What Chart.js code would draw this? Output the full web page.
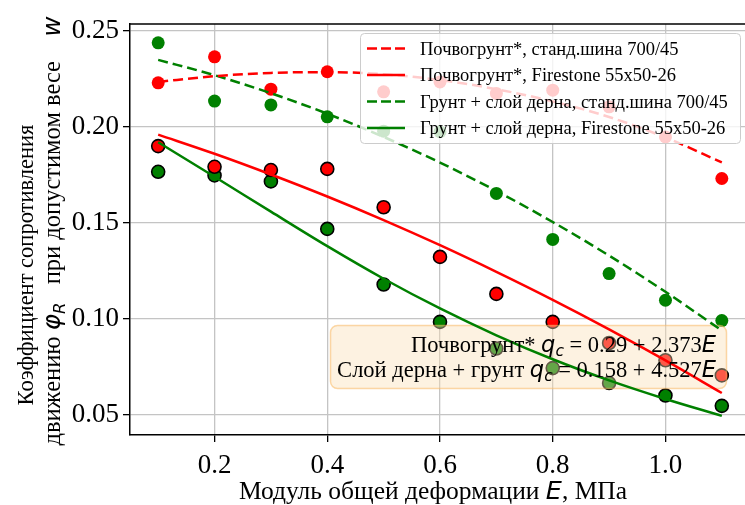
<!DOCTYPE html>
<html>
<head>
<meta charset="utf-8">
<script src="https://cdn.jsdelivr.net/npm/chart.js@4.4.1/dist/chart.umd.min.js"></script>
<style>
  html, body { margin: 0; padding: 0; background: #fff; overflow: hidden; }
  #wrap { width: 760px; height: 505px; }
</style>
</head>
<body>
<div id="wrap"><canvas id="chart" width="760" height="505"></canvas></div>
<script>
// ── Data ──
const E_VALUES = [0.1, 0.2, 0.3, 0.4, 0.5, 0.6, 0.7, 0.8, 0.9, 1.0, 1.1];

// measured points
const SOIL_STD_PTS  = [0.223, 0.2366, 0.2197, 0.2288, 0.2183, 0.2235, 0.2175, 0.2192, 0.2105, 0.1948, 0.1731];
const SOIL_FIRE_PTS = [0.190, 0.1792, 0.1775, 0.1781, 0.1581, 0.1322, 0.1129, 0.0983, 0.0873, 0.0783, 0.0704];
const TURF_STD_PTS  = [0.2439, 0.2135, 0.2115, 0.2053, 0.1978, 0.1975, 0.1653, 0.1413, 0.1235, 0.1096, 0.0990];
const TURF_FIRE_PTS = [0.1766, 0.1747, 0.1716, 0.1468, 0.1178, 0.0983, 0.0844, 0.0742, 0.0664, 0.0599, 0.0545];

// fitted curves
const SOIL_STD_FIT  = [0.2235, 0.2265, 0.2282, 0.2286, 0.2275, 0.2245, 0.2197, 0.2133, 0.2052, 0.1945, 0.1815];
const SOIL_FIRE_FIT = [0.196, 0.186, 0.1752, 0.1637, 0.1514, 0.1383, 0.1244, 0.1098, 0.0944, 0.0782, 0.0612];
const TURF_STD_FIT  = [0.235, 0.227, 0.2176, 0.2069, 0.1948, 0.1814, 0.1666, 0.1504, 0.1329, 0.114, 0.0938];
const TURF_FIRE_FIT = [0.192, 0.174, 0.1558, 0.1378, 0.1208, 0.1053, 0.0913, 0.0788, 0.0678, 0.0581, 0.0493];

const X_TICKS = [0.2, 0.4, 0.6, 0.8, 1.0];
const Y_TICKS = [0.05, 0.10, 0.15, 0.20, 0.25];

const LEGEND_LABELS = [
  'Почвогрунт*, станд.шина 700/45',
  'Почвогрунт*, Firestone 55x50-26',
  'Грунт + слой дерна, станд.шина 700/45',
  'Грунт + слой дерна, Firestone 55x50-26'
];

const SERIF = '"Liberation Serif", "Times New Roman", serif';
const MATH = '"DejaVu Sans", sans-serif';
const RED = '#ff0000';
const GREEN = '#008000';

function pts(ys) {
  return E_VALUES.map((x, i) => ({ x: x, y: ys[i] }));
}

function fitLine(label, ys, color, dashed) {
  return {
    label: label, data: pts(ys), showLine: true,
    borderColor: color, backgroundColor: color, borderWidth: 2.5,
    borderDash: dashed ? [10, 5] : [], pointRadius: 0,
    cubicInterpolationMode: 'monotone', fill: false
  };
}

function dots(ys, color, edge) {
  return {
    data: pts(ys), showLine: false,
    backgroundColor: color, borderColor: edge ? '#000' : color,
    borderWidth: edge ? 1.6 : 0, pointRadius: 6.5
  };
}

// ── helpers for mixed-font text ──
function drawRuns(ctx, runs, x, y, align) {
  let w = 0;
  runs.forEach(r => { ctx.font = r.f; r.w = ctx.measureText(r.t).width; w += r.w; });
  let cx = align === 'center' ? x - w / 2 : align === 'right' ? x - w : x;
  ctx.textAlign = 'left';
  ctx.textBaseline = 'alphabetic';
  runs.forEach(r => {
    ctx.font = r.f;
    ctx.fillText(r.t, cx, y + (r.dy || 0));
    cx += r.w;
  });
}

const serif = s => s + 'px ' + SERIF;
const imath = s => 'italic ' + s + 'px ' + MATH;

const overlay = {
  id: 'overlay',
  afterDatasetDraw(chart, args) {
    // box of the fit equations: over the dots, under the lines
    if (args.index !== 4) return;
    const ctx = chart.ctx;
    ctx.save();
    ctx.beginPath();
    ctx.roundRect(330.5, 325.5, 396, 63, 7);
    ctx.fillStyle = 'rgba(250, 222, 180, 0.4)';
    ctx.fill();
    ctx.strokeStyle = 'rgba(250, 185, 100, 0.55)';
    ctx.lineWidth = 1.5;
    ctx.stroke();
    ctx.restore();
  },
  afterDraw(chart) {
    const ctx = chart.ctx;
    const a = chart.chartArea;
    ctx.save();
    ctx.fillStyle = '#000';

    // top + right spines
    ctx.strokeStyle = '#000';
    ctx.lineWidth = 1.5;
    ctx.beginPath();
    ctx.moveTo(a.left, a.top); ctx.lineTo(a.right, a.top); ctx.lineTo(a.right, a.bottom);
    ctx.stroke();

    // fit equations
    drawRuns(ctx, [
      { t: 'Почвогрунт* ', f: serif(22.5) },
      { t: 'q', f: imath(22.5) }, { t: 'c', f: imath(15.5), dy: 4 },
      { t: ' = 0.29 + 2.373', f: serif(22.5) },
      { t: 'E', f: imath(22.5) }
    ], 716, 352, 'right');
    drawRuns(ctx, [
      { t: 'Слой дерна + грунт ', f: serif(22.5) },
      { t: 'q', f: imath(22.5) }, { t: 'c', f: imath(15.5), dy: 4 },
      { t: ' = 0.158 + 4.527', f: serif(22.5) },
      { t: 'E', f: imath(22.5) }
    ], 716, 377, 'right');

    // x title
    drawRuns(ctx, [
      { t: 'Модуль общей деформации ', f: serif(25.5) },
      { t: 'E', f: imath(25.5) },
      { t: ', МПа', f: serif(25.5) }
    ], 433, 499, 'center');

    // y title (two lines, rotated)
    ctx.save();
    ctx.translate(33, 265);
    ctx.rotate(-Math.PI / 2);
    drawRuns(ctx, [{ t: 'Коэффициент сопротивления', f: serif(22.5) }], 0, 0, 'center');
    ctx.restore();
    ctx.save();
    ctx.translate(60, 231);
    ctx.rotate(-Math.PI / 2);
    drawRuns(ctx, [
      { t: 'движению ', f: serif(24.5) },
      { t: 'φ', f: imath(24.5) }, { t: 'R', f: imath(16.5), dy: 5 },
      { t: '   при допустимом весе    ', f: serif(24.5) },
      { t: 'w', f: imath(24.5) }
    ], 0, 0, 'center');
    ctx.restore();

    // legend
    ctx.beginPath();
    ctx.roundRect(360.5, 33.5, 380, 110, 4);
    ctx.fillStyle = 'rgba(255,255,255,0.8)';
    ctx.fill();
    ctx.strokeStyle = '#cccccc';
    ctx.lineWidth = 1;
    ctx.stroke();
    const rows = [48.5, 75, 101.5, 128];
    const styles = [[RED, true], [RED, false], [GREEN, true], [GREEN, false]];
    rows.forEach((ry, i) => {
      ctx.strokeStyle = styles[i][0];
      ctx.lineWidth = 2.5;
      ctx.setLineDash(styles[i][1] ? [10, 4] : []);
      ctx.beginPath();
      ctx.moveTo(367, ry); ctx.lineTo(405, ry);
      ctx.stroke();
      ctx.setLineDash([]);
      ctx.fillStyle = '#000';
      drawRuns(ctx, [{ t: LEGEND_LABELS[i], f: serif(18.5) }], 420, ry + 6, 'left');
    });
    ctx.restore();
  }
};

new Chart(document.getElementById('chart'), {
  type: 'scatter',
  data: {
    datasets: [
      fitLine(LEGEND_LABELS[0], SOIL_STD_FIT, RED, true),
      fitLine(LEGEND_LABELS[1], SOIL_FIRE_FIT, RED, false),
      fitLine(LEGEND_LABELS[2], TURF_STD_FIT, GREEN, true),
      fitLine(LEGEND_LABELS[3], TURF_FIRE_FIT, GREEN, false),
      dots(SOIL_STD_PTS, RED, false),
      dots(SOIL_FIRE_PTS, RED, true),
      dots(TURF_STD_PTS, GREEN, false),
      dots(TURF_FIRE_PTS, GREEN, true)
    ]
  },
  options: {
    responsive: false, animation: false, events: [],
    devicePixelRatio: 1,
    layout: { padding: { top: 24, right: 10, left: 0, bottom: 0 } },
    plugins: { legend: { display: false }, tooltip: { enabled: false } },
    scales: {
      x: {
        type: 'linear', min: 0.05, max: 1.15,
        afterBuildTicks: s => { s.ticks = X_TICKS.map(v => ({ value: v })); },
        afterFit: s => { s.height = 70; },
        grid: { color: '#c4c4c4', lineWidth: 1.3, tickColor: '#000', tickLength: 7, tickWidth: 1.3 },
        border: { color: '#000', width: 1.5 },
        ticks: {
          font: { family: SERIF, size: 27 }, color: '#000', padding: 8,
          maxRotation: 0, autoSkip: false, callback: v => v.toFixed(1)
        }
      },
      y: {
        type: 'linear', min: 0.0393, max: 0.2537,
        afterBuildTicks: s => { s.ticks = Y_TICKS.map(v => ({ value: v })); },
        afterFit: s => { s.width = 130; },
        grid: { color: '#c4c4c4', lineWidth: 1.3, tickColor: '#000', tickLength: 7, tickWidth: 1.3 },
        border: { color: '#000', width: 1.5 },
        ticks: {
          font: { family: SERIF, size: 27 }, color: '#000', padding: 4,
          autoSkip: false, callback: v => v.toFixed(2)
        }
      }
    }
  },
  plugins: [overlay]
});
</script>
</body>
</html>
